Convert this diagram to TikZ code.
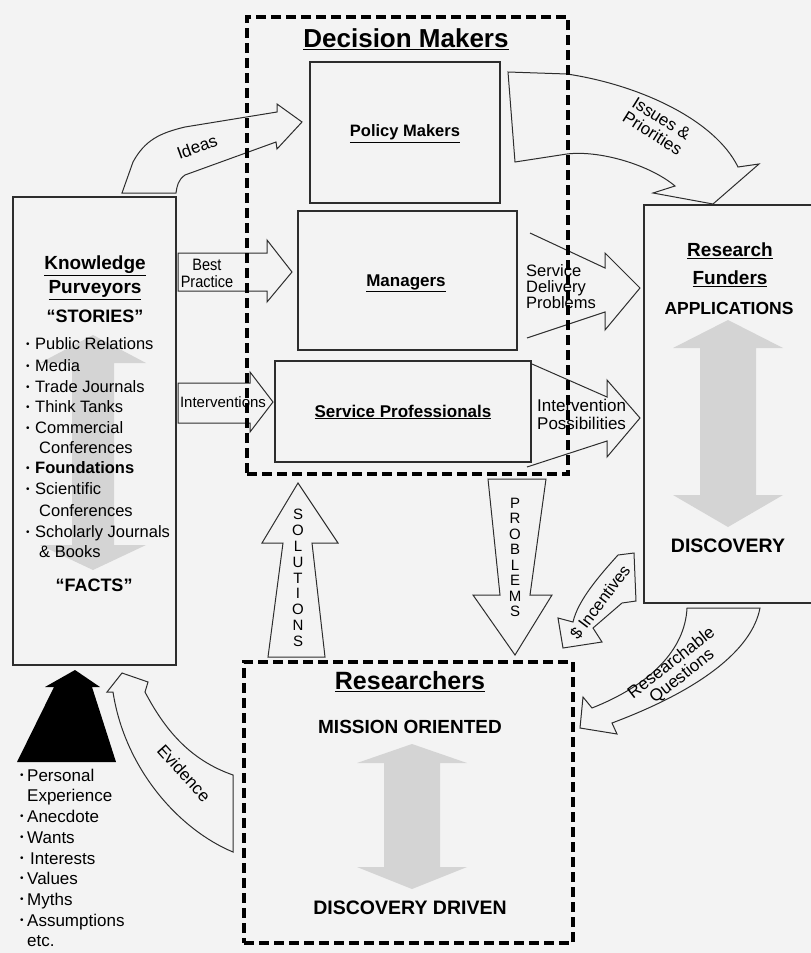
\documentclass[tikz,border=0pt]{standalone}
\usepackage{fontspec}
\setmainfont{Liberation Sans}
\definecolor{paper}{RGB}{243,243,243}
\definecolor{shade}{RGB}{212,212,212}
\definecolor{ink}{RGB}{45,45,45}
% small list bullet set in a fixed-width slot
\newcommand{\bdot}[1]{\makebox[#1][l]{\raisebox{2.2pt}{\fontsize{10}{10}\selectfont\textbullet}}}
\tikzset{
  kbox/.style={draw=ink, line width=1.2pt, fill=paper, inner sep=0pt},
  dgroup/.style={draw=black, line width=3.6pt, dash pattern=on 10pt off 5pt, inner sep=0pt},
  barrow/.style={draw=ink, line width=1pt, fill=paper, line join=miter},
  openarrow/.style={draw=ink, line width=1pt, line join=miter},
  spanfill/.style={fill=shade},
  tx/.style 2 args={inner sep=0pt, text=black, font=\fontsize{#1}{#1}\selectfont, text height=#2, text depth=0pt},
  bx/.style 2 args={inner sep=0pt, text=black, font=\bfseries\fontsize{#1}{#1}\selectfont, text height=#2, text depth=0pt},
  listitem/.style={tx={16.5}{11.8pt}, anchor=west},
  lowitem/.style={tx={17}{12.2pt}, anchor=west},
  vletter/.style={tx={15}{10.8pt}},
}
\begin{document}
\begin{tikzpicture}[x=1pt,y=-1pt]
\useasboundingbox (0,0) rectangle (811,953);
\fill[paper] (0,0) rectangle (811,953);

% ---------- boxes ----------
\node[kbox, minimum width=163, minimum height=468] (kp) at (94.5,431) {};
\fill[spanfill] (93,335) -- (146,363) -- (114,363) -- (114,545) -- (146,545) -- (93,570)
  -- (40,545) -- (72,545) -- (72,363) -- (40,363) -- cycle;

\draw[kbox] (811,205) -| (644,603) -- (811,603);
\fill[spanfill] (728,320) -- (783,348) -- (756,348) -- (756,495) -- (783,495) -- (728,527)
  -- (673,495) -- (700,495) -- (700,348) -- (673,348) -- cycle;

\fill[spanfill] (412,744) -- (467,763) -- (440,763) -- (440,867) -- (467,867) -- (412,889)
  -- (357,867) -- (384,867) -- (384,763) -- (357,763) -- cycle;

\node[kbox, minimum width=190, minimum height=141] (pm) at (405,132.5) {};
\node[kbox, minimum width=219, minimum height=139] (mg) at (407.5,280.5) {};
\node[kbox, minimum width=256, minimum height=101] (sp) at (403,411.5) {};

% ---------- block arrows ----------
% Ideas
\draw[barrow] (122,193) -- (133,162) .. controls (145,140) and (160,133) .. (185,127)
  -- (277,112) -- (277,104) -- (302,122) -- (277,149) -- (276,142) -- (185,175)
  .. controls (178,180) and (177,186) .. (176,193) -- cycle;
% Issues & Priorities
\draw[barrow] (508,72) -- (567,74) .. controls (640,85) and (715,120) .. (738,167)
  -- (759,164) -- (713,204) -- (653,193) -- (675,186)
  .. controls (650,165) and (600,150) .. (567,154) -- (515,162) -- cycle;
% Best Practice
\draw[barrow] (178,253) -- (267,253) -- (267,240) -- (292,272) -- (267,302) -- (267,291) -- (178,291) -- cycle;
% Interventions
\draw[barrow] (178,383) -- (250,383) -- (250,372) -- (273,402) -- (250,432) -- (250,423) -- (178,423) -- cycle;
% Service Delivery Problems
\draw[openarrow] (530,233) -- (605,268) -- (605,253) -- (640,288) -- (605,330) -- (605,312) -- (527,338);
% Intervention Possibilities
\draw[openarrow] (532,364) -- (607,397) -- (607,380) -- (640,418) -- (607,457) -- (607,441) -- (527,467);
% Solutions
\draw[barrow] (268,657) -- (283,543) -- (262,543) -- (298,483) -- (338,543) -- (312,543) -- (325,657) -- cycle;
% Problems
\draw[barrow] (488,479) -- (546,479) -- (530,595) -- (552,595) -- (515,655) -- (473,595) -- (500,595) -- cycle;
% $ Incentives
\draw[barrow] (618,555) -- (634,553) -- (636,601) -- (622,603) -- (593,628) -- (602,642) -- (563,648)
  -- (558,618) -- (573,622) .. controls (578,600) and (600,575) .. (618,555) -- cycle;
% Researchable Questions
\draw[barrow] (687,608) -- (760,608) .. controls (752,650) and (700,690) .. (612,723)
  -- (617,734) -- (580,728) -- (583,697) -- (592,708)
  .. controls (650,685) and (685,650) .. (687,608) -- cycle;
% Evidence
\draw[barrow] (233,775) .. controls (190,760) and (165,730) .. (145,692) -- (148,682) -- (122,673)
  -- (107,692) -- (113,692) .. controls (125,770) and (180,830) .. (233,852) -- cycle;
% everyday knowledge
\fill[black] (75,670) -- (100,687) -- (92,687) -- (116,762) -- (17,762) -- (54,687) -- (45,687) -- cycle;

% ---------- dashed groups ----------
\node[dgroup, minimum width=321, minimum height=457] (dm) at (407.5,245.5) {};
\node[dgroup, minimum width=329, minimum height=281] (rs) at (408.5,802.5) {};

% ---------- labels ----------
\node[bx={26}{18.6pt}] (dmt) at (406,38) {\underline{Decision Makers}};
\node[bx={16.5}{11.8pt}] (pmt) at (405,131) {\underline{Policy Makers}};
\node[bx={17}{12.2pt}] (mgt) at (406,280) {\underline{Managers}};
\node[bx={17}{12.2pt}] (spt) at (403,411) {\underline{Service Professionals}};

\node[bx={19}{13.6pt}] (kpt1) at (95,263) {\underline{Knowledge}};
\node[bx={19}{13.6pt}] (kpt2) at (95,287) {\underline{Purveyors}};
\node[bx={18}{12.9pt}] (stories) at (95,316) {“STORIES”};
\node[listitem] (k1) at (26,344) {\bdot{9pt}Public Relations};
\node[listitem] (k2) at (26,366) {\bdot{9pt}Media};
\node[listitem] (k3) at (26,387) {\bdot{9pt}Trade Journals};
\node[listitem] (k4) at (26,407) {\bdot{9pt}Think Tanks};
\node[listitem] (k5) at (26,428) {\bdot{9pt}Commercial};
\node[listitem] (k5b) at (39,448) {Conferences};
\node[listitem, font=\bfseries\fontsize{16.5}{16.5}\selectfont] (k6) at (26,468) {\bdot{9pt}Foundations};
\node[listitem] (k7) at (26,489) {\bdot{9pt}Scientific};
\node[listitem] (k7b) at (39,511) {Conferences};
\node[listitem] (k8) at (26,532) {\bdot{9pt}Scholarly Journals};
\node[listitem] (k8b) at (39,552) {\& Books};
\node[bx={18}{12.9pt}] (facts) at (94,585) {“FACTS”};

\node[bx={19}{13.6pt}] (rft1) at (730,250) {\underline{Research}};
\node[bx={19}{13.6pt}] (rft2) at (730,278) {\underline{Funders}};
\node[bx={17.5}{12.5pt}] (appl) at (729,308) {APPLICATIONS};
\node[bx={19.5}{14pt}] (disc) at (728,545) {DISCOVERY};

\node[bx={25}{17.9pt}] (rst) at (410,681) {\underline{Researchers}};
\node[bx={19}{13.6pt}] (mission) at (410,727) {MISSION ORIENTED};
\node[bx={19.5}{14pt}] (driven) at (410,907) {DISCOVERY DRIVEN};

\node[lowitem] (p1) at (20,775) {\bdot{7pt}Personal};
\node[lowitem] (p1b) at (27,795) {Experience};
\node[lowitem] (p2) at (20,816) {\bdot{7pt}Anecdote};
\node[lowitem] (p3) at (20,837) {\bdot{7pt}Wants};
\node[lowitem] (p4) at (20,858) {\bdot{10pt}Interests};
\node[lowitem] (p5) at (20,878) {\bdot{7pt}Values};
\node[lowitem] (p6) at (20,899) {\bdot{7pt}Myths};
\node[lowitem] (p7) at (20,920) {\bdot{7pt}Assumptions};
\node[lowitem] (p8) at (27,940) {etc.};

% arrow captions
\node[inner sep=0pt, align=center, font=\fontsize{16.5}{17}\selectfont] (bpt) at (207,273)
  {\scalebox{0.88}[1]{Best}\\\scalebox{0.88}[1]{Practice}};
\node[tx={15}{10.8pt}] (ivt) at (223,402) {Interventions};
\node[inner sep=0pt, align=left, anchor=west, font=\fontsize{16.5}{16}\selectfont] (sdp) at (526,287) {Service\\Delivery\\Problems};
\node[inner sep=0pt, align=left, anchor=west, font=\fontsize{17}{18}\selectfont] (ipt) at (537,414) {Intervention\\Possibilities};
\node[tx={17}{12.2pt}, rotate=20] (ideas) at (197,147) {Ideas};
\node[inner sep=0pt, align=center, rotate=-32, font=\fontsize{17}{17}\selectfont] (iss) at (657,126) {Issues \&\\Priorities};
\node[tx={16.5}{11.8pt}, rotate=53] (inc) at (600,602) {\$ Incentives};
\node[inner sep=0pt, align=center, rotate=38, font=\fontsize{17}{17}\selectfont] (rq) at (677,670) {Researchable\\Questions};
\node[tx={17}{12.2pt}, rotate=-48] (evid) at (184,773) {Evidence};

\foreach \l [count=\i] in {S,O,L,U,T,I,O,N,S}
  \node[vletter] (sol\i) at (298,{514+15.9*(\i-1)}) {\l};
\foreach \l [count=\i] in {P,R,O,B,L,E,M,S}
  \node[vletter] (prb\i) at (515,{503+15.5*(\i-1)}) {\l};
\end{tikzpicture}
\end{document}
